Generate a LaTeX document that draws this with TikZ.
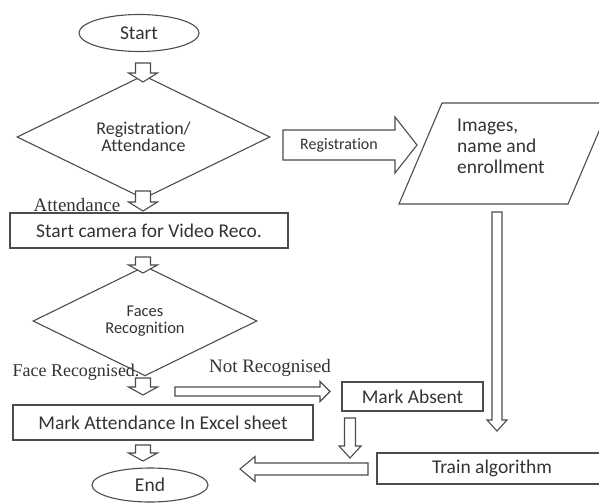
\documentclass[tikz,border=0pt]{standalone}
\usepackage{fontspec}
\setmainfont{Carlito}[Ligatures=NoCommon]
\newfontfamily\seriffont{Liberation Serif}
\usetikzlibrary{shapes.geometric}
\tikzset{
  ln/.style={draw=black!70, line width=1.1pt},
  boxn/.style={ln, rectangle, inner sep=0pt, text=black!80, font=\fontsize{19.5}{21}\selectfont},
  ovaln/.style={ln, ellipse, inner sep=0pt, text=black!80, font=\fontsize{19.5}{21}\selectfont},
  decn/.style={ln, diamond, inner sep=0pt, align=center, text=black!80},
  lbl/.style={inner sep=0pt, text=black!80, font=\seriffont\fontsize{19}{21}\selectfont},
  barrow/.style={ln, fill=white, line join=miter},
}
\newcommand\varrowshape[6]{%
  \draw[barrow] (#1-#5,#2) -- (#1+#5,#2) -- (#1+#5,#3) -- (#1+#6,#3) -- (#1,#4) -- (#1-#6,#3) -- (#1-#5,#3) -- cycle;}
\newcommand\harrowshape[6]{%
  \draw[barrow] (#1,#4-#5) -- (#2,#4-#5) -- (#2,#4-#6) -- (#3,#4) -- (#2,#4+#6) -- (#2,#4+#5) -- (#1,#4+#5) -- cycle;}
\begin{document}
\begin{tikzpicture}[x=1pt,y=-1pt]
\useasboundingbox (0,0) rectangle (599,503);
\clip (0,0) rectangle (599,503);
% main column
\node[ovaln, minimum width=120pt, minimum height=37pt] (start) at (139,33) {Start};
\node[decn, minimum width=253pt, minimum height=100pt, font=\fontsize{18}{16.5}\selectfont] (reg) at (143.5,137) {Registration/\\Attendance};
\node[lbl] (attl) at (77,205) {Attendance};
\node[boxn, minimum width=278pt, minimum height=35pt] (cam) at (149,230.5) {Start camera for Video Reco.};
\node[decn, minimum width=224pt, minimum height=92pt, font=\fontsize{16.5}{17}\selectfont] (face) at (145,321) {Faces\\Recognition};
\node[lbl, font=\seriffont\fontsize{18}{20}\selectfont] (frl) at (76,372) {Face Recognised.};
\node[lbl] (nrl) at (270,368) {Not Recognised};
\node[boxn, minimum width=141pt, minimum height=29pt] (absent) at (412.5,396.5) {Mark Absent};
\node[boxn, minimum width=300pt, minimum height=35pt] (mark) at (163,422.5) {Mark Attendance In Excel sheet};
\node[boxn, minimum width=230pt, minimum height=31pt] (train) at (492,468.5) {Train algorithm};
\node[ovaln, minimum width=116pt, minimum height=34pt] (end) at (150,485) {End};
% data parallelogram
\draw[ln] (442,103) -- (611,103) -- (568,204) -- (399,204) -- cycle;
\node[anchor=west, align=left, inner sep=0pt, text=black!80, font=\fontsize{19.5}{21}\selectfont] (img) at (457,146) {Images,\\name and\\enrollment};
% block arrows
\varrowshape{143}{63}{73}{82}{7.5}{14.5}
\varrowshape{143}{191}{202}{211}{7.5}{14.5}
\varrowshape{143}{257}{265}{273}{7.5}{14.5}
\varrowshape{143}{378}{387}{395}{7.5}{14.5}
\varrowshape{143}{445}{453}{461}{7.5}{14.5}
\varrowshape{497}{212}{420}{431}{5}{10}
\varrowshape{350}{418}{446}{458}{5.5}{11}
\harrowshape{283}{395}{417}{145}{15}{28}
\harrowshape{175}{320}{330}{391.5}{4.5}{10}
\harrowshape{368}{255}{240}{469}{6}{12.5}
\node[inner sep=0pt, text=black!80, font=\fontsize{16}{18}\selectfont] (regl) at (339,145) {Registration};
\end{tikzpicture}
\end{document}
